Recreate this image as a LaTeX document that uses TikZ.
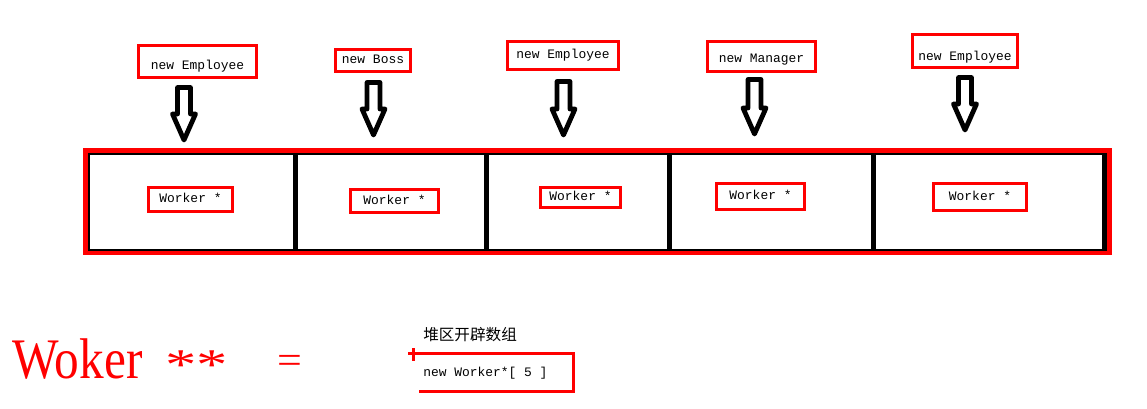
\documentclass[tikz,border=0pt]{standalone}
\usepackage{fontspec}
\newfontfamily\monof{Liberation Mono}
\newfontfamily\serf{Liberation Serif}
\newfontfamily\cjk{Noto Sans CJK SC}
\usetikzlibrary{calc}
\begin{document}
\begin{tikzpicture}[x=0.75pt, y=-0.75pt,
  redbox/.style={draw=red, line width=2.25pt, inner sep=0pt, text=black,
    font=\monof\fontsize{9.7}{11}\selectfont, text height=7pt, text depth=2pt},
  bsize/.style 2 args={minimum width={(#1-3)*0.75pt}, minimum height={(#2-3)*0.75pt}},
  tdown/.style={text height={7pt+2*#1*0.75pt}},
  blockarrow/.style={draw=black, fill=white, line width=3.6pt, line join=round,
    to path={($(\tikztostart)+(-6.5,0)$) -- ($(\tikztotarget)+(-6.5,-26)$)
      -- ($(\tikztotarget)+(-11.5,-26)$) -- (\tikztotarget)
      -- ($(\tikztotarget)+(11.5,-26)$) -- ($(\tikztotarget)+(6.5,-26)$)
      -- ($(\tikztostart)+(6.5,0)$) -- cycle}},
  divider/.style={draw=black, line width=3.75pt},
  bigtext/.style={anchor=base west, inner sep=0pt, text=red}
]
\useasboundingbox (0,0) rectangle (1147,408);

% top boxes
\node[redbox, bsize={121}{35}, tdown=4.5] (e1) at (197.5,61.5) {new Employee};
\node[redbox, bsize={78}{25}] (e2) at (373,60.5) {new Boss};
\node[redbox, bsize={114}{31}] (e3) at (563,55.5) {new Employee};
\node[redbox, bsize={111}{33}, tdown=2.5] (e4) at (761.5,56.5) {new Manager};
\node[redbox, bsize={108}{36}, tdown=6] (e5) at (965,51) {new Employee};

% array
\node[draw=red, line width=3.75pt, inner sep=0pt, minimum width={1024.5*0.75pt},
  minimum height={102*0.75pt}] (arr) at (597.25,201.5) {};
\draw[black, line width=1.5pt] (88.5,154) rectangle (1104.5,249.5);
\draw[divider] (1104.5,153) -- (1104.5,250.5);
\foreach \xx in {295,486.5,669,873} \draw[divider] (\xx,154) -- (\xx,249.5);

% arrow tips and starts
\coordinate (t1) at (184,140);
\coordinate (t2) at (373.5,135);
\coordinate (t3) at (563.5,135);
\coordinate (t4) at (754.5,134);
\coordinate (t5) at (965,130);
\coordinate (s1) at ($(e1.south -| t1)+(0,8.5)$);
\coordinate (s2) at ($(e2.south -| t2)+(0,9.5)$);
\coordinate (s3) at ($(e3.south -| t3)+(0,10.5)$);
\coordinate (s4) at ($(e4.south -| t4)+(0,6.5)$);
\coordinate (s5) at ($(e5.south -| t5)+(0,8.5)$);
\foreach \i in {1,...,5} \draw[blockarrow] (s\i) to (t\i);

% worker boxes
\node[redbox, bsize={87}{27}] (w1) at (190.5,199.5) {Worker *};
\node[redbox, bsize={91}{26}] (w2) at (394.5,201) {Worker *};
\node[redbox, bsize={83}{23}] (w3) at (580.5,197.5) {Worker *};
\node[redbox, bsize={91}{29}] (w4) at (760.5,196.5) {Worker *};
\node[redbox, bsize={96}{30}] (w5) at (980,197) {Worker *};

% bottom
\node[bigtext, font=\serf\fontsize{43}{43}\selectfont, xscale=0.86] (wk) at (12,378) {Woker};
\node[bigtext, font=\serf\fontsize{47}{47}\selectfont, yscale=0.7] (st) at (165,379) {**};
\node[bigtext, font=\serf\fontsize{33}{33}\selectfont, yscale=0.9] (eq) at (277.5,373) {=};
\node[anchor=base west, inner sep=0pt, font=\cjk\fontsize{11.7}{12}\selectfont] (lbl) at (423,340) {堆区开辟数组};
\node[anchor=west, inner sep=0pt, font=\monof\fontsize{9.7}{11}\selectfont] (nw) at (423,373) {new Worker*[ 5 ]};
\draw[red, line width=2.25pt] (408,353) -- (573,353) -- (573,391) -- (419,391);
\draw[red, line width=2.25pt] (413,348) -- (413,361);
\end{tikzpicture}
\end{document}
